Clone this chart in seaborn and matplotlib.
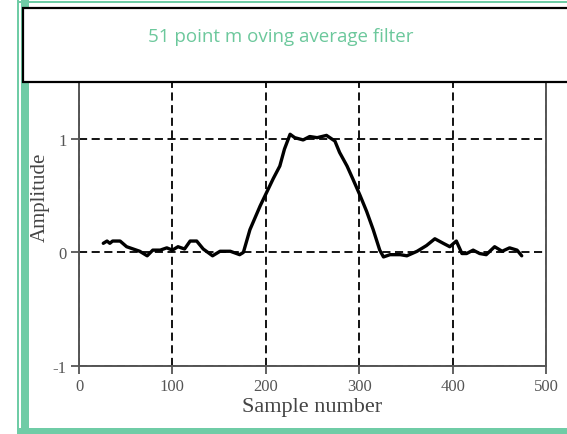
import matplotlib
matplotlib.use("Agg")
import matplotlib.pyplot as plt
from matplotlib.patches import Rectangle
import seaborn as sns
import pandas as pd

# values
sample = [26, 30, 33, 36, 44, 51, 58, 65, 73, 79, 87, 94, 100, 106, 113, 119,
          126, 133, 143, 151, 162, 172, 176, 183, 194, 201, 208, 215, 220, 226,
          231, 240, 247, 255, 265, 274, 279, 287, 293, 301, 308, 315, 322, 326,
          333, 344, 351, 362, 372, 381, 390, 397, 404, 410, 415, 422, 429, 436,
          445, 453, 461, 469, 474]
amplitude = [0.08, 0.10, 0.08, 0.10, 0.10, 0.05, 0.03, 0.01, -0.03, 0.02, 0.02,
             0.04, 0.02, 0.05, 0.03, 0.10, 0.10, 0.03, -0.03, 0.01, 0.01, -0.02,
             0.00, 0.20, 0.41, 0.53, 0.65, 0.76, 0.91, 1.04, 1.01, 0.99, 1.02,
             1.01, 1.03, 0.98, 0.88, 0.76, 0.65, 0.50, 0.36, 0.20, 0.02, -0.04,
             -0.02, -0.02, -0.03, 0.01, 0.06, 0.12, 0.08, 0.05, 0.10, -0.01,
             -0.01, 0.02, -0.01, -0.02, 0.05, 0.01, 0.04, 0.02, -0.03]
x_ticks = [0, 100, 200, 300, 400, 500]
y_ticks = [-1, 0, 1]
title = "51 point m oving average filter"

df = pd.DataFrame({"Sample number": sample, "Amplitude": amplitude})

sns.set_theme(style="white")
plt.rcParams["axes.unicode_minus"] = False
W, H = 567, 435
fig = plt.figure(figsize=(W / 100, H / 100), dpi=100)
fig.patch.set_facecolor("white")

ax = fig.add_axes([79 / W, (H - 367) / H, (546 - 79) / W, (367 - 83) / H])
sns.lineplot(data=df, x="Sample number", y="Amplitude", color="black",
             linewidth=2.4, estimator=None, sort=False, ax=ax)

ax.set_xlim(0, 500)
ax.set_ylim(-1, 1.5)
ax.set_xticks(x_ticks)
ax.set_yticks(y_ticks)
ax.grid(True, color="black", linestyle=(0, (4.5, 2.5)), linewidth=1.3)
ax.set_axisbelow(True)

grey = "#555555"
for side in ["left", "bottom", "right", "top"]:
    ax.spines[side].set_color(grey)
    ax.spines[side].set_linewidth(1.4)

serif = ["Liberation Serif", "DejaVu Serif"]
ax.tick_params(axis="both", direction="out", length=6, width=1.3, color=grey,
               labelcolor=grey, labelsize=12, bottom=True, left=True, pad=3)
for lab in ax.get_xticklabels() + ax.get_yticklabels():
    lab.set_family(serif)
ax.set_xlabel("Sample number", family=serif, fontsize=16, color="#444444", labelpad=2)
ylab = ax.set_ylabel("Amplitude", family=serif, fontsize=15, color="#444444")
ylab.set_verticalalignment("center")
ax.yaxis.set_label_coords((40 - 79) / (546 - 79), (367 - 197) / (367 - 83))

# green slide frame
green = "#6fcca6"
fig.patches.append(Rectangle((17 / W, 0), 2 / W, 1, transform=fig.transFigure,
                             facecolor=green, edgecolor="none", zorder=5))
fig.patches.append(Rectangle((17 / W, (H - 4) / H), 1, 2 / H, transform=fig.transFigure,
                             facecolor=green, edgecolor="none", zorder=5))
fig.patches.append(Rectangle((21 / W, 0), 8 / W, 1, transform=fig.transFigure,
                             facecolor=green, edgecolor="none", zorder=5))
fig.patches.append(Rectangle((17 / W, 0), 1, 6 / H, transform=fig.transFigure,
                             facecolor=green, edgecolor="none", zorder=5))

# title box on top
fig.patches.append(Rectangle((23 / W, (H - 83) / H), 1, (83 - 9) / H,
                             transform=fig.transFigure, facecolor="white",
                             edgecolor="black", linewidth=1.6, zorder=10))
fig.text(281 / W, (H - 37) / H, title, ha="center", va="center", fontsize=13.5,
         family=["Open Sans", "DejaVu Sans"], color="#6cc89c", zorder=11)

fig.savefig("out.png", dpi=100)
